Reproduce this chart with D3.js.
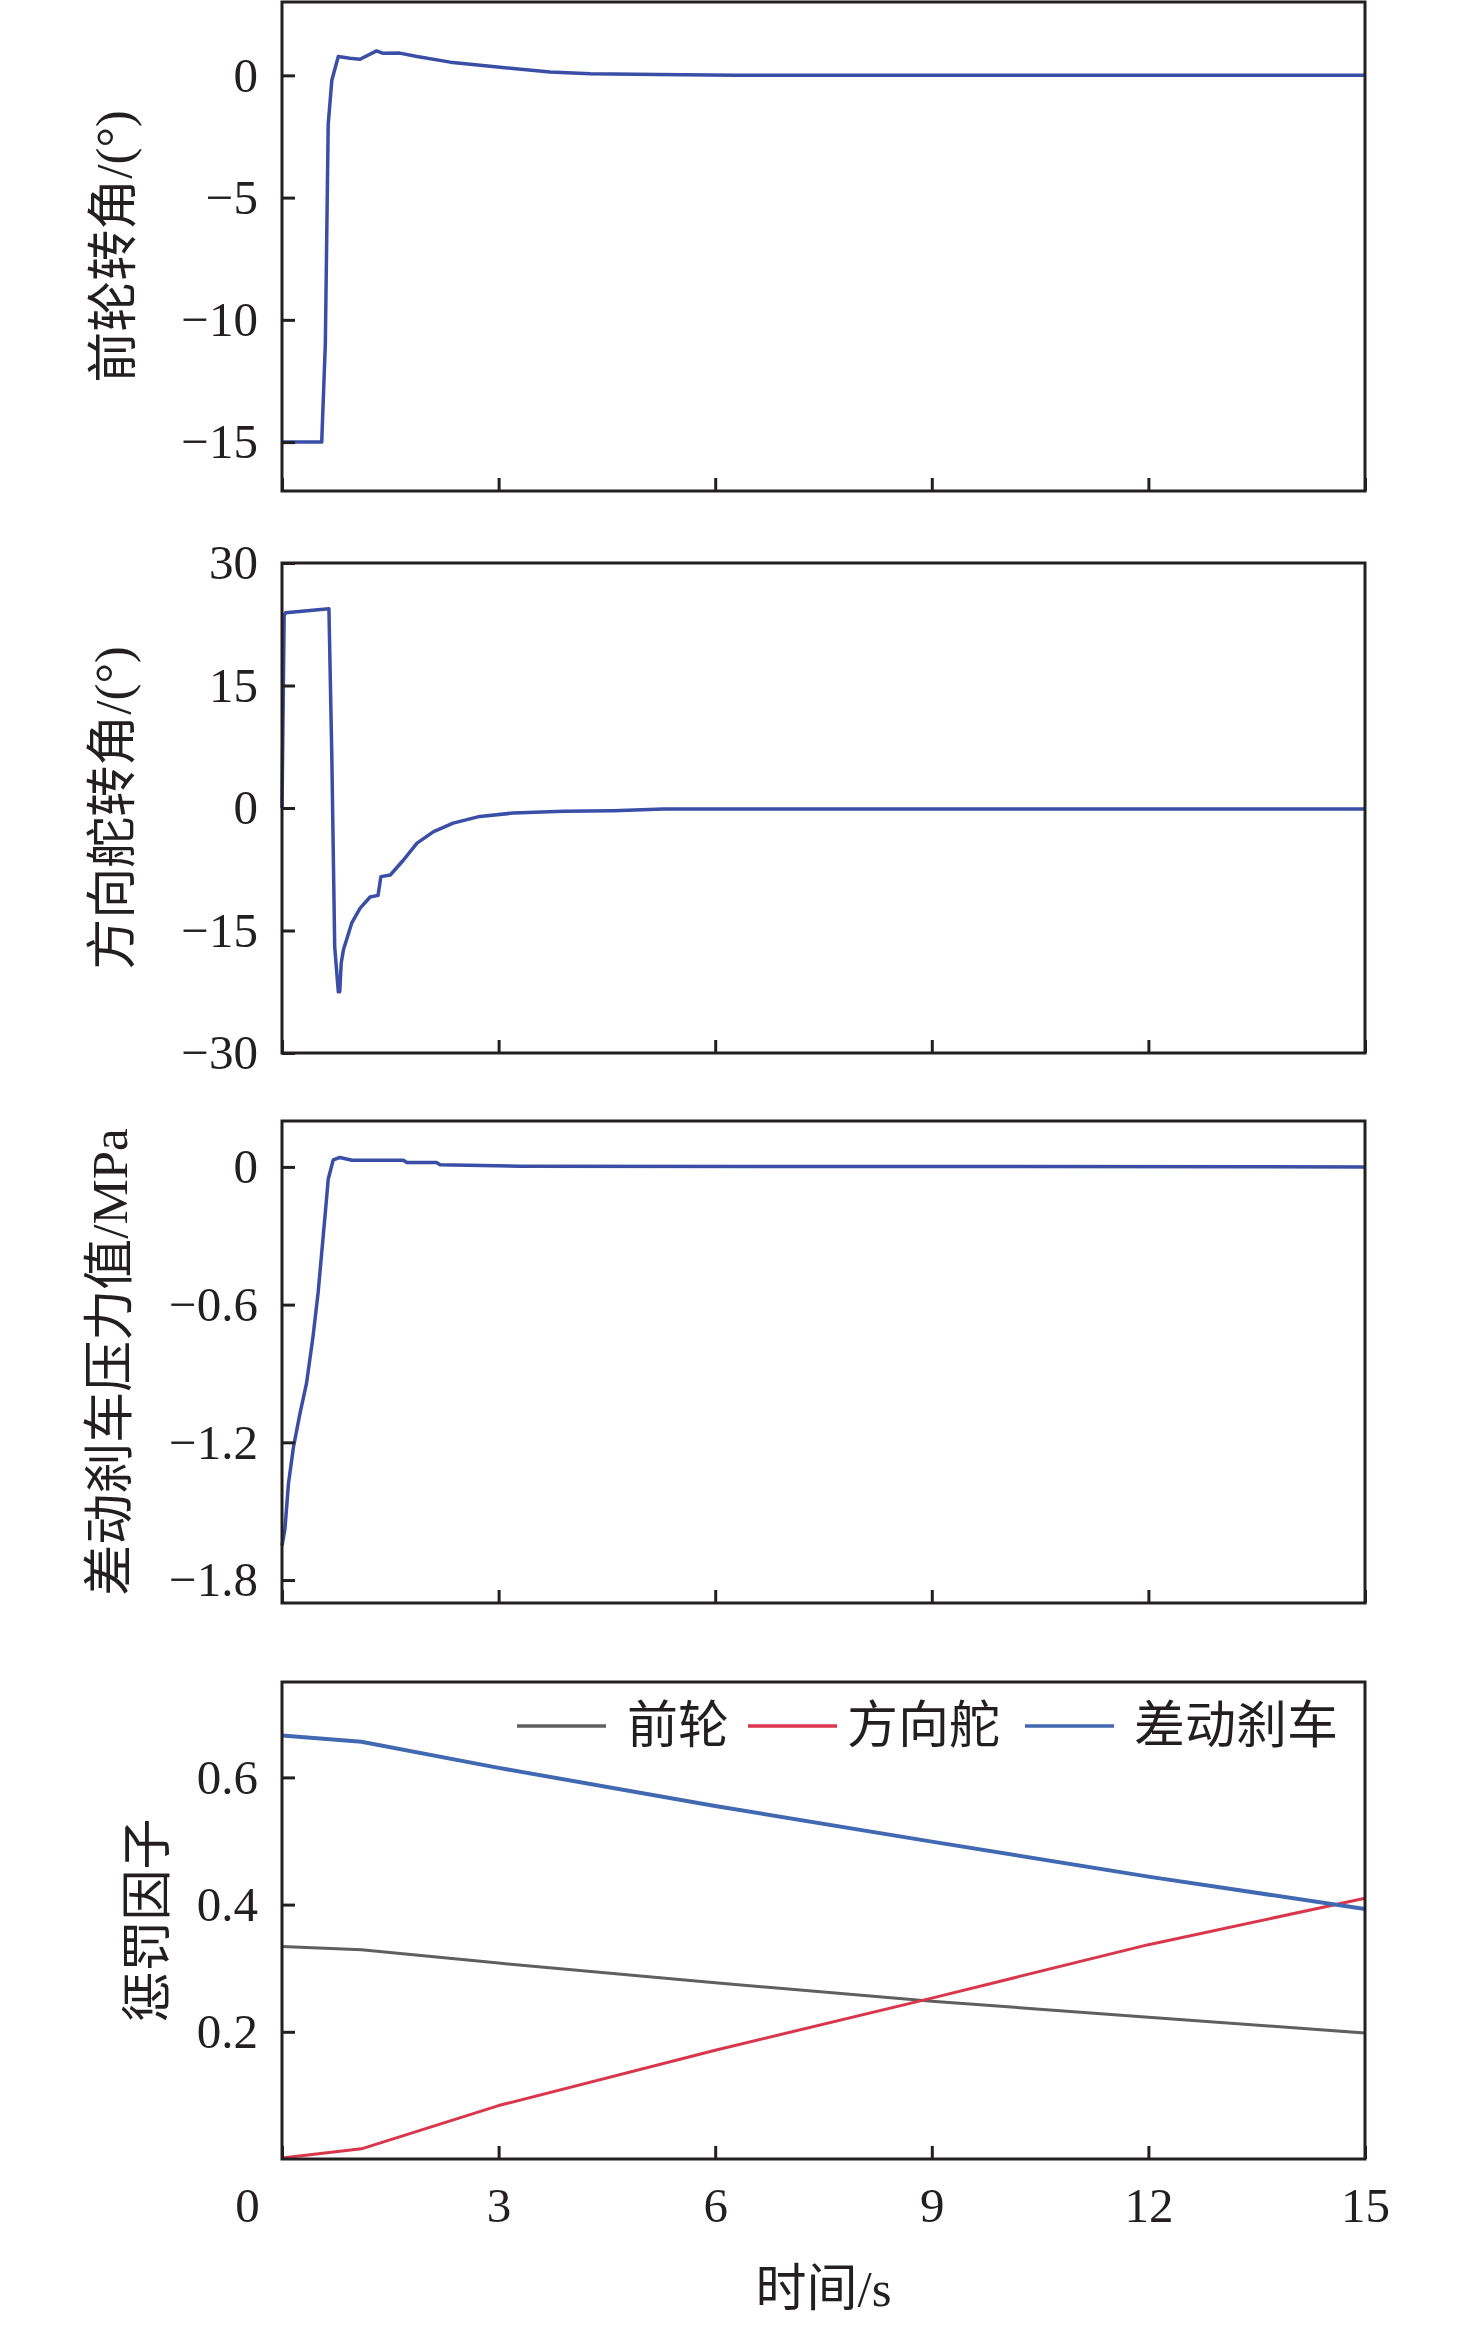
<!DOCTYPE html>
<html>
<head>
<meta charset="utf-8">
<script src="https://cdn.jsdelivr.net/npm/d3@7"></script>
<style>
  html, body { margin: 0; padding: 0; background: #fff; }
  svg text { font-family: "Liberation Serif", "Noto Sans CJK SC", serif; fill: #231f20; }
</style>
</head>
<body>
<div id="chart"></div>
<script>
// ---- data ----
const xTicks = [0, 3, 6, 9, 12, 15];

// front wheel angle (deg)
const frontT = [0, 0.55, 0.6, 0.64, 0.69, 0.78, 0.94, 1.08, 1.31, 1.4, 1.63, 1.87, 2.33, 3.02, 3.71, 4.27, 5.2, 6.3, 15];
const frontV = [-15, -15, -11, -2, -0.2, 0.77, 0.7, 0.66, 1.0, 0.9, 0.91, 0.77, 0.54, 0.33, 0.14, 0.07, 0.03, 0, 0];

// rudder angle (deg)
const rudderT = [0, 0.03, 0.05, 0.65, 0.69, 0.73, 0.78, 0.8, 0.82, 0.85, 0.965, 1.08, 1.22, 1.33, 1.37, 1.5, 1.68, 1.87, 2.1, 2.37, 2.74, 3.2, 3.9, 4.59, 5.28, 15];
const rudderV = [0, 23.6, 23.9, 24.4, 6.3, -17.0, -22.5, -22.5, -19.0, -17.4, -14.1, -12.3, -10.9, -10.7, -8.4, -8.2, -6.4, -4.3, -2.9, -1.85, -1.03, -0.62, -0.41, -0.33, -0.13, -0.13];

// differential brake pressure (MPa)
const brakeT = [0, 0.04, 0.09, 0.16, 0.25, 0.34, 0.43, 0.5, 0.55, 0.6, 0.64, 0.71, 0.8, 0.97, 1.68, 1.73, 2.14, 2.19, 3.3, 15];
const brakeV = [-1.65, -1.58, -1.378, -1.218, -1.073, -0.942, -0.738, -0.549, -0.374, -0.199, -0.054, 0.031, 0.041, 0.029, 0.029, 0.019, 0.019, 0.009, 0.003, 0];

// penalty factors
const penaltyT = [0, 1.1, 3, 6, 9, 12, 15];
const penaltyFront = [0.334, 0.329, 0.308, 0.277, 0.248, 0.223, 0.198];
const penaltyRudder = [0.0015, 0.016, 0.084, 0.171, 0.253, 0.337, 0.41];
const penaltyBrake = [0.666, 0.656, 0.615, 0.555, 0.499, 0.444, 0.393];

const legendNames = ["前轮", "方向舵", "差动刹车"];
const legendColors = ["#5f5f5f", "#d9364c", "#4169b2"];

// ---- layout ----
const W = 1476, H = 2325;
const X0 = 282, X1 = 1365;
const INK = "#231f20";

const svg = d3.select("#chart").append("svg")
    .attr("width", W)
    .attr("height", H)
    .style("background", "#fff");

const x = d3.scaleLinear().domain([0, 15]).range([X0, X1]);

const fmt1 = d => d === 0 ? "0" : d3.format(".1f")(d);

const panels = [
    { top: 2, bottom: 491, domain: [-17, 3], ticks: [0, -5, -10, -15], fmt: d3.format("d"),
      label: "前轮转角/(°)", labelX: 114,
      series: [{ t: frontT, v: frontV, color: "#3a4ea6", width: 3.5 }] },
    { top: 563, bottom: 1053, domain: [-30, 30], ticks: [30, 15, 0, -15, -30], fmt: d3.format("d"),
      label: "方向舵转角/(°)", labelX: 113,
      series: [{ t: rudderT, v: rudderV, color: "#3a4ea6", width: 3.5 }] },
    { top: 1121, bottom: 1603, domain: [-1.9, 0.2], ticks: [0, -0.6, -1.2, -1.8], fmt: fmt1,
      label: "差动刹车压力值/MPa", labelX: 110,
      series: [{ t: brakeT, v: brakeV, color: "#3a4ea6", width: 3.5 }] },
    { top: 1682, bottom: 2159, domain: [0, 0.75], ticks: [0.2, 0.4, 0.6], fmt: fmt1,
      label: "惩罚因子", labelX: 148, xLabels: true,
      series: [
        { t: penaltyT, v: penaltyFront, color: legendColors[0], width: 3 },
        { t: penaltyT, v: penaltyRudder, color: legendColors[1], width: 3 },
        { t: penaltyT, v: penaltyBrake, color: legendColors[2], width: 4 }
      ] }
];

panels.forEach(p => {
    const y = d3.scaleLinear().domain(p.domain).range([p.bottom, p.top]);
    const g = svg.append("g");

    // data lines
    const line = d3.line()
        .x(d => x(d[0]))
        .y(d => y(d[1]));

    p.series.forEach(s => {
        g.append("path")
            .datum(s.t.map((t, i) => [t, s.v[i]]))
            .attr("d", line)
            .attr("fill", "none")
            .attr("stroke", s.color)
            .attr("stroke-width", s.width)
            .attr("stroke-linejoin", "round");
    });

    // y axis, inward ticks
    const yAxis = g.append("g")
        .attr("transform", `translate(${X0},0)`)
        .call(d3.axisLeft(y).tickValues(p.ticks).tickFormat(p.fmt)
            .tickSizeInner(-13).tickSizeOuter(0).tickPadding(24));

    // x axis, inward ticks
    const xAxis = g.append("g")
        .attr("transform", `translate(0,${p.bottom})`)
        .call(d3.axisBottom(x).tickValues(xTicks)
            .tickFormat(p.xLabels ? d3.format("d") : "")
            .tickSizeInner(-13).tickSizeOuter(0).tickPadding(28));

    [yAxis, xAxis].forEach(a => {
        a.select(".domain").remove();
        a.selectAll("line").attr("stroke", INK).attr("stroke-width", 3);
        a.selectAll("text")
            .attr("fill", INK)
            .style("font-size", "49px")
            .style("font-family", "'Liberation Serif', serif");
    });

    // the origin label sits left of the corner in the original
    if (p.xLabels) {
        xAxis.selectAll(".tick text").filter(d => d === 0).attr("dx", -35);
    }

    // frame
    g.append("rect")
        .attr("x", X0)
        .attr("y", p.top)
        .attr("width", X1 - X0)
        .attr("height", p.bottom - p.top)
        .attr("fill", "none")
        .attr("stroke", INK)
        .attr("stroke-width", 3);

    // y label
    g.append("text")
        .attr("transform", `translate(${p.labelX},${(p.top + p.bottom) / 2}) rotate(-90)`)
        .attr("text-anchor", "middle")
        .attr("dominant-baseline", "central")
        .style("font-size", "51px")
        .text(p.label);
});

// legend in the bottom panel
const legendLineX = [517, 748, 1025];
const legendTextX = [627, 847, 1134];
const legend = svg.append("g");
legendNames.forEach((name, i) => {
    legend.append("line")
        .attr("x1", legendLineX[i])
        .attr("x2", legendLineX[i] + 89)
        .attr("y1", 1726)
        .attr("y2", 1726)
        .attr("stroke", legendColors[i])
        .attr("stroke-width", 3.5);
    legend.append("text")
        .attr("x", legendTextX[i])
        .attr("y", 1726)
        .attr("dominant-baseline", "central")
        .style("font-size", "51px")
        .text(name);
});

// x axis title
svg.append("text")
    .attr("x", (X0 + X1) / 2)
    .attr("y", 2289)
    .attr("text-anchor", "middle")
    .attr("dominant-baseline", "central")
    .style("font-size", "51px")
    .text("时间/s");
</script>
</body>
</html>
